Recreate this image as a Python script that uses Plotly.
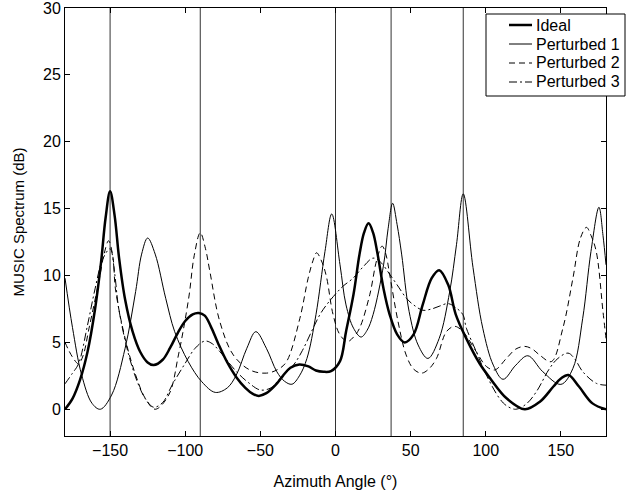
import plotly.graph_objects as go

# ---- data ----
ideal_x = [-180, -175, -170, -165, -160, -156, -153, -150, -147, -144, -140, -135, -130, -125, -121,
           -115, -110, -105, -100, -95, -91, -87, -83, -78, -72, -66, -60, -55, -51, -46, -40, -35,
           -30, -24, -18, -13, -8, -3, 3, 7, 12, 16, 19, 22, 25, 28, 32, 36, 41, 46, 52, 58, 64, 69,
           75, 80, 87, 96, 103, 114, 126, 136, 145, 150, 155, 162, 171, 180]
ideal_y = [0.0, 0.8, 2.2, 4.3, 7.5, 11.0, 14.3, 16.3, 14.5, 11.3, 8.2, 5.8, 4.3, 3.5, 3.3,
           3.7, 4.6, 5.7, 6.6, 7.1, 7.2, 7.0, 6.2, 4.9, 3.5, 2.4, 1.6, 1.15, 1.0, 1.2, 1.8, 2.5,
           3.1, 3.35, 3.2, 2.9, 2.8, 2.85, 3.6, 5.8, 8.6, 11.6, 13.2, 13.9, 13.2, 11.6, 9.0, 7.1, 5.6, 5.0, 5.6, 7.8, 9.8, 10.4,
           9.3, 7.1, 5.3, 3.4, 2.3, 0.8, 0.0, 0.56, 1.7, 2.3, 2.56, 1.7, 0.44, 0.0]

p1_x = [-180, -175, -169, -162, -156.5, -149, -140, -133, -129, -125, -120, -113, -107, -98, -89,
        -80, -72, -66, -59, -53, -46, -39, -34, -29, -24, -19, -13, -7, -2.5, 3, 7, 12, 17, 21,
        25, 32, 35, 38, 41, 44, 49, 55, 61.5, 69, 76, 80.5, 85, 91.5, 98, 105, 111.5, 120, 128,
        138, 150, 158, 164.5, 170, 175.3, 178, 180]
p1_y = [9.8, 6.1, 2.6, 0.44, 0.0, 1.06, 4.56, 8.8, 11.6, 12.8, 11.6, 8.3, 5.8, 3.56, 2.06,
        1.26, 1.6, 2.56, 4.56, 5.8, 4.56, 2.8, 2.1, 1.87, 2.5, 3.8, 7.07, 11.8, 14.6, 10.8, 7.8, 6.06, 5.4, 5.9,
        7.07, 10.8, 13.5, 15.4, 13.8, 11.6, 7.3, 4.8, 3.8, 5.3, 8.8, 12.3, 16.1, 10.6, 6.06, 3.3, 2.24, 3.3, 4.0,
        2.8, 1.86, 3.06, 6.8, 11.8, 15.1, 13.0, 10.8]

p2_x = [-180, -175, -171, -168, -164, -157.5, -154, -151, -148, -146.5, -140, -133, -126.5, -120,
        -111, -104.5, -97.7, -94, -90, -86.5, -83.6, -77, -68, -57, -46, -38, -32.6, -23.7, -18.2,
        -15, -12.6, -9, -6, -1.6, 3, 8, 12, 16, 22.8, 27.3, 31, 33.5, 36, 41.6, 47, 52, 57.2, 62,
        67.2, 73.8, 79.3, 84.8, 93.7, 100.4, 106, 113.7, 120, 126, 131, 135.8, 143.6, 151.3, 158,
        163, 167, 170, 173.5, 178, 180]
p2_y = [5.0, 3.9, 3.4, 4.0, 6.06, 9.56, 11.6, 12.6, 11.3, 9.06, 5.3, 2.56, 0.8, 0.0,
        1.06, 4.06, 8.3, 11.5, 13.2, 12.0, 10.3, 6.56, 4.06, 2.94, 2.7, 3.0, 3.56, 6.8, 9.8,
        11.1, 11.7, 11.0, 9.9, 7.07, 5.56, 5.06, 5.4, 6.06, 8.56, 11.1, 12.2, 11.6, 10.1, 6.56, 4.06, 3.0, 2.7, 3.0,
        3.8, 5.8, 6.2, 5.8, 4.3, 3.2, 2.94, 3.8, 4.5, 4.7, 4.5, 4.06, 3.56, 6.06, 9.8,
        12.8, 13.6, 13.0, 11.8, 7.3, 5.3]

p3_x = [-180, -175, -171, -165, -160, -155, -150, -147, -144.3, -137.6, -131, -126, -121, -115,
        -108.8, -100, -93.4, -87, -82, -76.9, -65.8, -58, -50, -43, -37, -28, -22, -14.9, -10.4,
        -6, 0.7, 5, 11.7, 18, 25, 30, 36, 41, 47.2, 52, 58.2, 64, 69, 74.9, 80, 84.8, 87.1, 93.7,
        100.4, 109.2, 114, 120, 127, 133.6, 142.5, 148, 154.7, 159, 164.6, 173.5, 180]
p3_y = [1.9, 2.7, 3.4, 6.3, 9.0, 11.2, 12.0, 10.2, 7.56, 4.06, 1.8, 0.7, 0.15, 0.5,
        1.8, 3.44, 4.56, 5.1, 4.9, 4.3, 2.8, 2.0, 1.44, 1.6, 2.3, 3.3, 4.4, 6.06, 7.07,
        7.8, 8.7, 9.2, 9.8, 10.6, 11.3, 11.0, 10.1, 9.3, 8.3, 7.8, 7.4, 7.5, 7.7, 7.9, 7.6, 7.07, 6.06, 4.3,
        2.56, 0.8, 0.25, 0.0, 0.4, 1.3, 3.06, 3.8, 4.2, 3.8, 2.8, 1.94, 1.8]

source_angles = [-150, -90, 0, 37, 85]

x_ticks = [-150, -100, -50, 0, 50, 100, 150]
y_ticks = [0, 5, 10, 15, 20, 25, 30]

series_names = ["Ideal", "Perturbed 1", "Perturbed 2", "Perturbed 3"]

FONT = "Liberation Sans, Arial, Helvetica, sans-serif"

# ---- layout geometry (pixels) ----
W, H = 629, 493
ML, MR, MT, MB = 65, 23, 8, 57
PW, PH = W - ML - MR, H - MT - MB


def px_to_paper_x(px):
    return (px - ML) / PW


def py_to_paper_y(py):
    return (H - MB - py) / PH


fig = go.Figure()
styles = [
    dict(color="black", width=2.5, dash="solid"),
    dict(color="black", width=1, dash="solid"),
    dict(color="black", width=1, dash="6px,4px"),
    dict(color="black", width=1, dash="8px,3px,2px,3px"),
]
for name, xs, ys, st in zip(series_names, [ideal_x, p1_x, p2_x, p3_x],
                            [ideal_y, p1_y, p2_y, p3_y], styles):
    fig.add_trace(go.Scatter(x=xs, y=ys, mode="lines", name=name, showlegend=False,
                             hoverinfo="skip",
                             line=dict(shape="spline", smoothing=1.0, **st)))

for a in source_angles:
    fig.add_shape(type="line", xref="x", yref="paper", x0=a, x1=a, y0=0, y1=1,
                  line=dict(color="#333333", width=1), layer="below")

# ---- legend box drawn by hand to match the reference spacing ----
box_l, box_r, box_t, box_b = 486, 625, 14, 96
fig.add_shape(type="rect", xref="paper", yref="paper",
              x0=px_to_paper_x(box_l), x1=px_to_paper_x(box_r),
              y0=py_to_paper_y(box_b), y1=py_to_paper_y(box_t),
              line=dict(color="black", width=1), fillcolor="white", layer="above")
row_y = [25, 44, 63, 82]
for name, st, ry in zip(series_names, styles, row_y):
    fig.add_shape(type="line", xref="paper", yref="paper",
                  x0=px_to_paper_x(509), x1=px_to_paper_x(532),
                  y0=py_to_paper_y(ry), y1=py_to_paper_y(ry),
                  line=dict(color=st["color"], width=st["width"], dash=st["dash"]),
                  layer="above")
    fig.add_annotation(xref="paper", yref="paper", x=px_to_paper_x(535), y=py_to_paper_y(ry),
                       xanchor="left", yanchor="middle", text=name, showarrow=False,
                       borderpad=0, font=dict(family=FONT, size=16, color="black"))

axis_common = dict(showline=True, linecolor="black", linewidth=1, mirror="ticks",
                   ticks="inside", ticklen=5, tickcolor="black", showgrid=False,
                   zeroline=False, ticklabeloverflow="allow", automargin=False,
                   tickfont=dict(family=FONT, size=16, color="black"))

fig.update_layout(
    width=W, height=H,
    margin=dict(l=ML, r=MR, t=MT, b=MB, autoexpand=False),
    paper_bgcolor="white", plot_bgcolor="white",
    font=dict(family=FONT, size=16, color="black"),
    xaxis=dict(range=[-180, 180], tickvals=x_ticks,
               title=dict(text="Azimuth Angle (°)", font=dict(size=16), standoff=17),
               **axis_common),
    yaxis=dict(range=[-2, 30], tickvals=y_ticks,
               title=dict(text="MUSIC Spectrum (dB)", font=dict(size=15), standoff=14),
               **axis_common),
    showlegend=False,
    hovermode=False,
)

fig.write_html("out.html",
               config={"displayModeBar": False, "staticPlot": True},
               post_script="document.body.style.margin='0px';document.body.style.overflow='hidden';")
